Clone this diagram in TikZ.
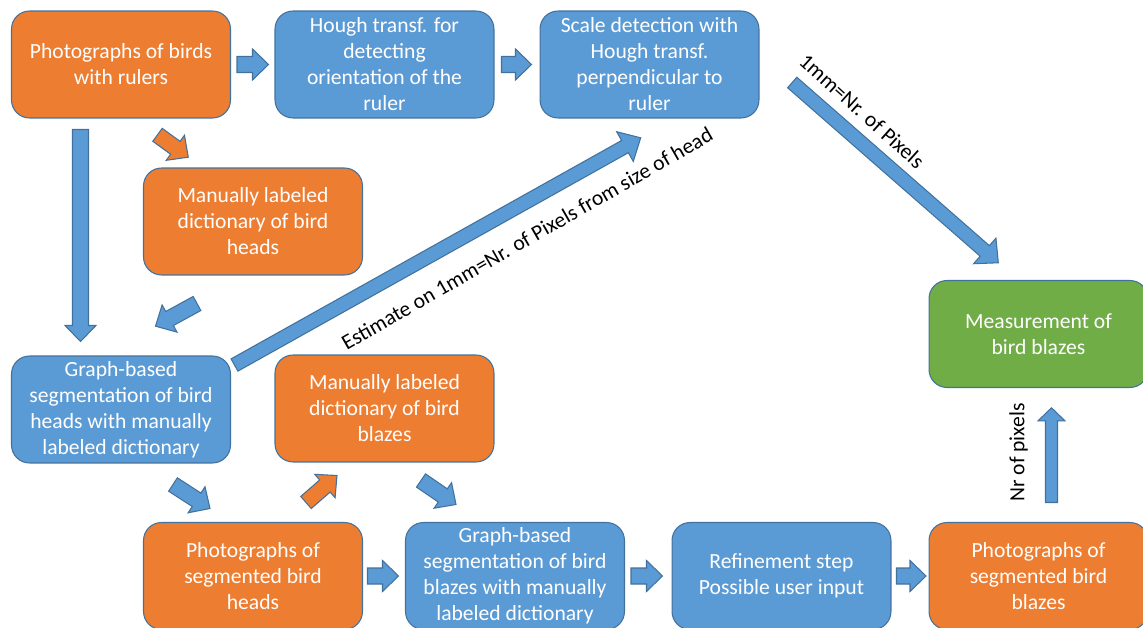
\documentclass[tikz,border=0pt]{standalone}
\usepackage{fontspec}
\setmainfont{Carlito}
\usetikzlibrary{calc}
\definecolor{boxorange}{HTML}{ED7D31}
\definecolor{boxblue}{HTML}{5B9BD5}
\definecolor{boxgreen}{HTML}{70AD47}
\definecolor{edgeblue}{HTML}{41719C}
\tikzstyle{every node}=[font=\fontsize{12.3}{14.8}\selectfont]
\tikzstyle{stage}=[draw=edgeblue,line width=0.6pt,rounded corners=0.36cm,minimum width=4.38cm,minimum height=2.14cm,inner sep=0pt,align=center,text=white]
\tikzstyle{bluebox}=[stage,fill=boxblue]
\tikzstyle{orangebox}=[stage,fill=boxorange]
\tikzstyle{greenbox}=[stage,fill=boxgreen]
\tikzstyle{arrowblue}=[fill=boxblue,draw=edgeblue,line width=0.6pt]
\tikzstyle{arroworange}=[fill=boxorange,draw=edgeblue,line width=0.6pt]
\tikzstyle{lbl}=[text=black,inner sep=0pt]
\def\arrshaft{0.16cm}
\def\arrhead{0.31cm}
\def\arrtip{0.32cm}
\newcommand{\fatarrow}[3][arrowblue]{%
  \coordinate (fa-s) at (#2);
  \coordinate (fa-e) at (#3);
  \coordinate (fa-b) at ($(fa-e)!\arrtip!(fa-s)$);
  \filldraw[#1] ($(fa-s)!\arrshaft!90:(fa-e)$) -- ($(fa-b)!\arrshaft!90:(fa-e)$)
    -- ($(fa-b)!\arrhead!90:(fa-e)$) -- (fa-e) -- ($(fa-b)!\arrhead!-90:(fa-e)$)
    -- ($(fa-b)!\arrshaft!-90:(fa-e)$) -- ($(fa-s)!\arrshaft!-90:(fa-e)$) -- cycle;}
\begin{document}
\begin{tikzpicture}[x=0.02cm,y=-0.02cm]
  \clip (0,0) rectangle (1143,628);
  \node[orangebox] (photos) at (121,64.5) {Photographs of birds\\with rulers};
  \node[bluebox] (hough) at (384.5,64.5) {Hough transf. for\\detecting\\orientation of the\\ruler};
  \node[bluebox] (scale) at (649.5,64.5) {Scale detection with\\Hough transf.\\perpendicular to\\ruler};
  \node[orangebox] (dicthead) at (253,221.5) {Manually labeled\\dictionary of bird\\heads};
  \node[bluebox] (seghead) at (121,409.5) {Graph-based\\segmentation of bird\\heads with manually\\labeled dictionary};
  \node[orangebox] (dictblaze) at (384.5,408.5) {Manually labeled\\dictionary of bird\\blazes};
  \node[greenbox] (measure) at (1038.5,334) {Measurement of\\bird blazes};
  \node[orangebox] (photoshead) at (253,576) {Photographs of\\segmented bird\\heads};
  \node[bluebox] (segblaze) at (515,576) {Graph-based\\segmentation of bird\\blazes with manually\\labeled dictionary};
  \node[bluebox] (refine) at (781.5,576) {Refinement step\\Possible user input};
  \node[orangebox] (photoblaze) at (1038.5,576) {Photographs of\\segmented bird\\blazes};

  \fatarrow{$(photos.east)+(6,0)$}{$(hough.west)+(-6,0)$}
  \fatarrow{$(hough.east)+(7,0)$}{$(scale.west)+(-8,0)$}
  \fatarrow{$(photos.south)+(-40.5,11)$}{$(seghead.north)+(-40.5,-14)$}
  \fatarrow[arroworange]{$(photos.south)+(36.5,16.3)$}{$(dicthead.north)+(-64.7,-10.3)$}
  \fatarrow{$(dicthead.south)+(-56,28)$}{$(seghead.north)+(34.5,-29.3)$}
  \fatarrow{$(seghead.south)+(52,21)$}{$(photoshead.north)+(-43,-13.5)$}
  \fatarrow[arroworange]{$(photoshead.north)+(53,-19.5)$}{$(dictblaze.south)+(-47.5,13)$}
  \fatarrow{$(dictblaze.south)+(36.5,18)$}{$(segblaze.north)+(-59,-17.5)$}
  \fatarrow{$(photoshead.east)+(4.5,0)$}{$(segblaze.west)+(-6.5,0)$}
  \fatarrow{$(segblaze.east)+(6,0)$}{$(refine.west)+(-9,0)$}
  \fatarrow{$(refine.east)+(5,0)$}{$(photoblaze.west)+(-2.5,0)$}
  \begin{scope}
    \def\arrshaft{0.14cm}\def\arrhead{0.34cm}\def\arrtip{0.36cm}
    \fatarrow{$(seghead.east)+(3.5,-44.5)$}{$(scale.south)+(-8.8,19.3)$}
    \fatarrow{$(scale.east)+(32.7,18)$}{$(measure.north)+(-40.2,-17.2)$}
  \end{scope}
  \begin{scope}
    \def\arrshaft{0.12cm}\def\arrhead{0.27cm}\def\arrtip{0.26cm}
    \fatarrow{$(photoblaze.north)+(13,-19.5)$}{$(measure.south)+(13,19.8)$}
  \end{scope}

  \node[lbl,rotate=29.9] (estimate) at (527,238.5) {Estimate on 1mm=Nr. of Pixels from size of head};
  \node[lbl,rotate=-42] (mmlabel) at (862,111) {1mm=Nr. of Pixels};
  \node[lbl,rotate=90] (pixlabel) at (1018.5,452.5) {Nr of pixels};
\end{tikzpicture}
\end{document}
